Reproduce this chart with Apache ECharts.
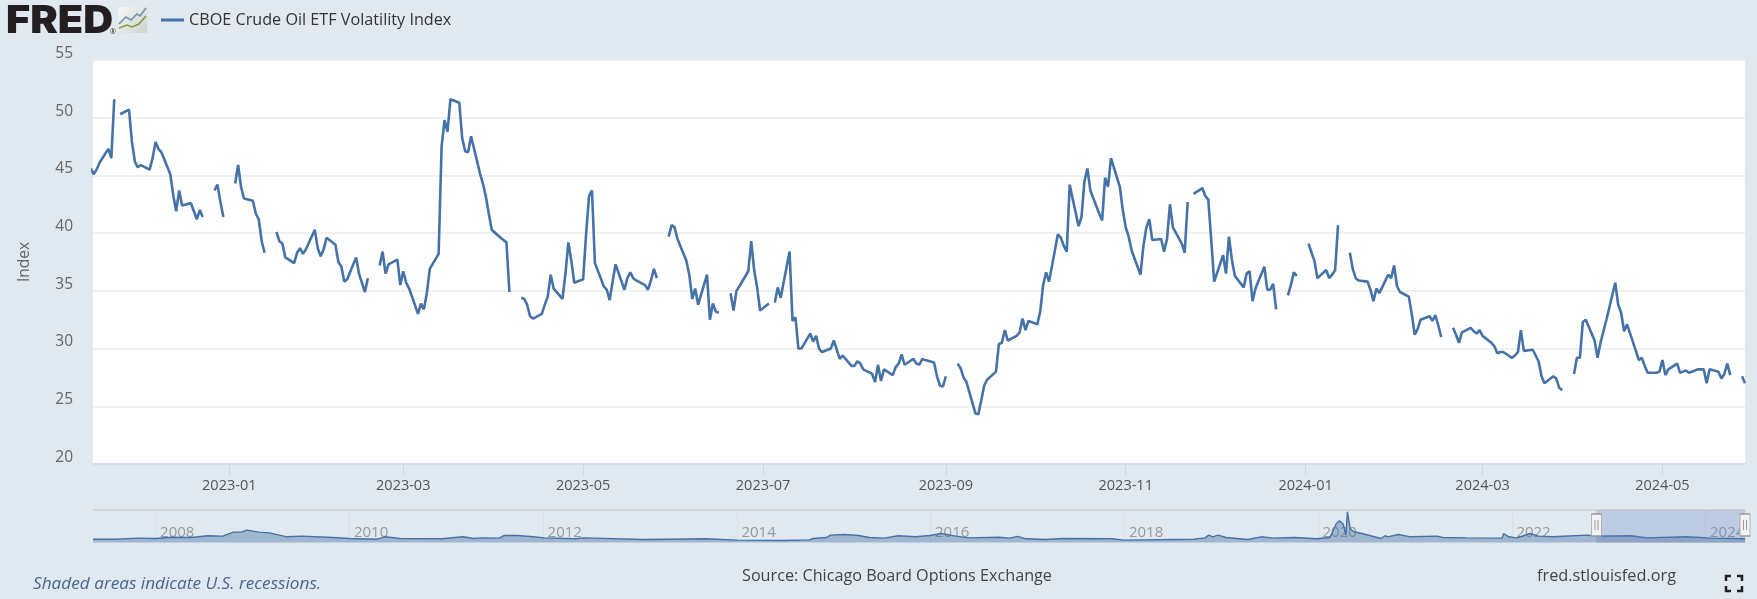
<!DOCTYPE html>
<html>
<head>
<meta charset="utf-8">
<style>html,body{margin:0;padding:0;background:#e1e9f0}#c{width:1757px;height:599px}</style>
<script src="https://cdn.jsdelivr.net/npm/echarts@6/dist/echarts.min.js"></script>
</head>
<body>
<div id="c"></div>
<script>
const seriesName = 'CBOE Crude Oil ETF Volatility Index';
const yTicks = [20,25,30,35,40,45,50,55];
const xTickMonths = ['2023-01-01','2023-03-01','2023-05-01','2023-07-01','2023-09-01','2023-11-01','2024-01-01','2024-03-01','2024-05-01'];
const navYears = ['2008-01-01','2010-01-01','2012-01-01','2014-01-01','2016-01-01','2018-01-01','2020-01-01','2022-01-01','2024-01-01'];

// One value per weekday of the month; null = market holiday (gap in the line)
const v2022_11 = [45.6,45.1,45.5,46.1, 47.3,46.5,51.6,null,50.3, 50.7,47.9,46.2];
const v2022_12 = [45.7,45.9, 45.5,46.5,47.9,47.3,47.0, 45.1,43.3,41.9,43.7,42.4, 42.6,41.9,41.2,42.0,41.4, null,43.7,44.2,42.7,41.4];
const v2023_01 = [null,44.3,45.9,44.0,43.0, 42.8,41.7,41.2,39.3,38.3, null,40.1,39.3,39.1,37.9, 37.4,38.3,38.7,38.2,38.6, 40.3,38.7];
const v2023_02 = [38.0,38.6,39.6, 39.0,37.5,37.1,35.8,36.0, 37.9,36.5,35.7,34.9,36.1, null,37.2,38.4,36.5,37.3, 37.7,35.5];
const v2023_03 = [36.7,35.7,35.2, 33.0,33.9,33.4,34.8,36.9, 38.2,47.5,49.8,48.8,51.6, 51.3,48.2,47.1,47.0,48.4, 45.2,44.3,43.2,41.7,40.3];
const v2023_04 = [39.6,39.4,39.2,34.9,null, 34.4,34.3,33.8,32.8,32.6, 33.0,33.8,34.5,36.4,35.2, 34.3,36.5,39.2,37.6,35.7];
const v2023_05 = [36.0,39.9,43.2,43.7,37.4, 35.4,35.1,34.2,35.8,37.3, 35.1,36.1,36.6,36.1,35.9, 35.5,35.1,35.9,36.9,36.1, null,39.7,40.7];
const v2023_06 = [40.5,39.5, 37.6,36.4,34.3,35.2,33.8, 36.4,32.5,33.9,33.2,33.1, null,34.8,33.3,35.0,35.4, 36.7,39.3,36.8,35.3,33.3];
const v2023_07 = [33.9,null,34.0,35.3,34.4, 38.4,32.4,32.7,30.0,30.0, 31.3,30.6,31.1,30.0,29.7, 30.0,30.7,29.9,29.1,29.4, 28.5];
const v2023_08 = [28.5,28.9,28.7,28.2, 27.8,27.1,28.6,27.2,28.2, 27.7,28.4,28.7,29.5,28.6, 29.1,28.7,28.6,29.1,29.0, 28.8,27.6,26.8,26.7];
const v2023_09 = [27.6, null,28.7,28.3,27.5,27.1, 24.4,24.3,25.5,26.8,27.3, 28.0,30.4,30.5,31.6,30.7, 31.1,31.4,32.6,31.6,32.4];
const v2023_10 = [32.1,33.2,35.5,36.6,35.8, 39.9,39.6,38.9,38.4,44.2, 40.6,41.4,44.5,45.6,43.7, 41.7,41.1,44.8,44.0,46.5, 44.0,42.0];
const v2023_11 = [40.5,39.7,38.5, 36.4,38.9,40.5,41.2,39.4, 39.5,38.4,39.5,42.5,40.5, 39.1,38.3,42.7,null,43.4, 43.9,43.2,42.9,39.4];
const v2023_12 = [35.8, 38.1,36.5,39.7,37.7,36.3, 35.3,36.5,36.7,34.1,35.2, 37.1,35.1,35.1,35.6,33.4, null,34.6,35.5,36.6,36.3];
const v2024_01 = [null,39.1,38.3,37.6,36.1, 36.8,36.1,36.4,36.8,40.7, null,38.3,36.9,36.1,35.9, 35.8,35.1,34.1,35.2,34.8, 36.4,36.1,37.2];
const v2024_02 = [35.4,34.9, 34.5,33.0,31.2,31.7,32.5, 32.8,32.4,32.9,32.0,31.0, null,31.8,31.2,30.5,31.4, 31.8,31.5,31.3,31.6];
const v2024_03 = [31.1, 30.5,30.2,29.6,29.7,29.7, 29.2,29.4,29.7,31.6,29.8, 29.9,29.4,28.9,27.6,27.0, 27.6,27.4,26.6,26.4,null];
const v2024_04 = [27.8,29.2,29.2,32.3,32.5, 30.7,29.2,30.5,31.5,32.5, 35.7,33.8,33.1,31.5,32.1, 29.8,29.0,29.2,28.5,27.9, 27.9,28.0];
const v2024_05 = [29.0,27.7,28.2, 28.7,27.9,28.0,28.1,27.9, 28.2,28.2,28.2,27.0,28.2, 28.0,27.4,27.8,28.7,27.7, null,27.6,27.0];

// Overview strip (whole history since 2007)
const navDates = ['2007-05-10','2007-08-01','2007-11-01','2008-01-01','2008-03-01','2008-05-15','2008-07-15','2008-09-10','2008-10-20','2008-11-20','2008-12-10','2009-01-25','2009-03-05','2009-05-10','2009-07-05','2009-10-10','2010-01-01','2010-04-15','2010-05-15','2010-07-10','2010-12-15','2011-03-05','2011-04-15','2011-05-15','2011-07-20','2011-08-08','2011-09-25','2011-11-15','2012-01-05','2012-05-05','2012-06-01','2013-01-15','2013-04-25','2013-09-05','2014-01-01','2014-06-25','2014-10-01','2014-10-15','2014-12-05','2014-12-20','2015-02-10','2015-04-05','2015-05-15','2015-07-10','2015-09-01','2015-11-05','2015-12-30','2016-02-10','2016-04-05','2016-05-25','2016-09-15','2016-10-25','2016-11-25','2016-12-25','2017-03-10','2017-05-15','2017-11-15','2017-12-30','2018-09-20','2018-11-01','2018-11-15','2018-11-30','2018-12-20','2019-01-20','2019-04-10','2019-06-01','2019-07-15','2019-10-05','2019-12-25','2020-02-15','2020-03-10','2020-03-22','2020-04-05','2020-04-15','2020-04-21','2020-05-01','2020-05-15','2020-06-15','2020-08-25','2020-09-10','2020-09-20','2020-10-30','2020-12-15','2021-03-25','2021-04-15','2021-07-15','2021-11-25','2021-12-01','2021-12-20','2022-01-20','2022-03-10','2022-04-12','2022-06-05','2022-10-10','2022-11-18','2023-03-25','2023-05-25','2023-10-22','2024-01-22','2024-05-29'];
const navValues = [35,35,46,42,56,53,71,67,109,109,131,109,102,60,67,56,42,35,60,42,39,60,42,49,46,74,74,64,49,39,49,32,35,39,25,21,28,42,53,78,85,74,53,46,71,60,74,95,67,49,56,46,64,39,32,42,39,25,35,49,78,60,78,53,32,60,46,53,39,53,201,229,194,78,325,148,113,95,42,71,60,85,60,67,53,49,46,95,60,49,95,67,60,78,67,71,49,60,46,39];

const blue = '#4572a7';
const font = '"Open Sans", "Noto Sans", sans-serif';
const monthly = [
  [2022,11,15,v2022_11],[2022,12,1,v2022_12],[2023,1,1,v2023_01],[2023,2,1,v2023_02],[2023,3,1,v2023_03],
  [2023,4,1,v2023_04],[2023,5,1,v2023_05],[2023,6,1,v2023_06],[2023,7,1,v2023_07],[2023,8,1,v2023_08],
  [2023,9,1,v2023_09],[2023,10,1,v2023_10],[2023,11,1,v2023_11],[2023,12,1,v2023_12],[2024,1,1,v2024_01],
  [2024,2,1,v2024_02],[2024,3,1,v2024_03],[2024,4,1,v2024_04],[2024,5,1,v2024_05]
];
const mainData = [];
monthly.forEach(([y,m,from,vals]) => {
  let d = from, i = 0;
  while (i < vals.length) {
    const t = Date.UTC(y, m-1, d);
    const wd = new Date(t).getUTCDay();
    if (wd !== 0 && wd !== 6) { mainData.push([t, vals[i]]); i++; }
    d++;
  }
});
const navData = navDates.map((d,i) => [Date.parse(d), navValues[i]]);
const windowStart = Date.UTC(2022,10,15,19);
const windowEnd = Date.UTC(2024,4,29);
const handleY = 185;
const pad = n => String(n).padStart(2,'0');

const chart = echarts.init(document.getElementById('c'));
const L = (pts, color, w) => ({type:'polyline', shape:{points:pts}, style:{stroke:color, lineWidth:w, fill:null}, silent:true});
chart.setOption({
  animation: false,
  backgroundColor: '#e1e9f0',
  textStyle: {fontFamily: font},
  tooltip: {show: false},
  legend: {
    left: 156, top: 7, icon: 'rect', itemWidth: 23, itemHeight: 3, selectedMode: false,
    data: [seriesName],
    textStyle: {fontFamily: font, fontSize: 16.2, color: '#333'}
  },
  grid: [
    {left: 93, top: 60, width: 1652, height: 404, show: true, backgroundColor: '#fff', borderWidth: 0},
    {left: 93, top: 510, width: 1652, height: 32.5, show: false}
  ],
  xAxis: [
    {
      type: 'value', gridIndex: 0, min: windowStart, max: windowEnd, scale: true,
      axisLine: {onZero: false, lineStyle: {color: '#ccd6eb', width: 1.5}},
      axisTick: {show: true, length: 11, lineStyle: {color: '#ccd6eb'}, customValues: xTickMonths.map(s => Date.parse(s))},
      axisLabel: {
        margin: 14, fontFamily: font, fontSize: 14.5, color: '#555', hideOverlap: false,
        customValues: xTickMonths.map(s => Date.parse(s)),
        formatter: v => { const d = new Date(v); return d.getUTCFullYear() + '-' + pad(d.getUTCMonth()+1); }
      },
      splitLine: {show: false}
    },
    {
      type: 'value', gridIndex: 1, min: Date.UTC(2007,4,10), max: windowEnd, scale: true,
      axisLine: {show: false, onZero: false},
      axisTick: {show: true, inside: true, length: 32, lineStyle: {color: '#d8dfe6'}, customValues: navYears.map(s => Date.parse(s))},
      axisLabel: {
        inside: true, margin: 2, align: 'left', verticalAlign: 'bottom', padding: [0,0,0,4.5],
        fontFamily: font, fontSize: 15, color: '#999', hideOverlap: false,
        customValues: navYears.map(s => Date.parse(s)),
        formatter: v => String(new Date(v).getUTCFullYear())
      },
      splitLine: {show: false}
    }
  ],
  yAxis: [
    {
      type: 'value', gridIndex: 0, min: yTicks[0], max: yTicks[yTicks.length-1], interval: 5,
      name: 'Index', nameLocation: 'middle', nameGap: 60, nameRotate: 90,
      nameTextStyle: {fontFamily: font, fontSize: 15.5, color: '#666'},
      axisLine: {show: false}, axisTick: {show: false},
      axisLabel: {margin: 20, verticalAlign: 'bottom', fontFamily: font, fontSize: 15.5, color: '#666', lineHeight: 13},
      splitLine: {show: true, lineStyle: {color: '#ebebeb', width: 1.5}}
    },
    {type: 'value', gridIndex: 1, min: 0, max: 343, show: false, splitLine: {show: false}}
  ],
  series: [
    {
      name: seriesName, type: 'line', xAxisIndex: 0, yAxisIndex: 0, data: mainData,
      showSymbol: false, connectNulls: false, smooth: false, clip: true,
      lineStyle: {color: blue, width: 2.6}, itemStyle: {color: blue}
    },
    {
      name: 'overview', type: 'line', xAxisIndex: 1, yAxisIndex: 1, data: navData,
      showSymbol: false, smooth: false, silent: true,
      lineStyle: {color: blue, width: 1.4}, itemStyle: {color: blue},
      areaStyle: {color: 'rgba(69,114,167,0.6)'},
      markArea: {
        silent: true,
        itemStyle: {color: 'rgba(102,133,194,0.3)', borderColor: '#cccccc', borderWidth: 1},
        data: [[{xAxis: Date.UTC(2022,10,16)}, {xAxis: windowEnd}]]
      },
      markPoint: {
        silent: true, label: {show: false},
        data: [
          {coord: [Date.UTC(2022,10,16), handleY], symbol: 'rect', symbolSize: [10,22], itemStyle: {color: '#f2f2f2', borderColor: '#999', borderWidth: 1}},
          {coord: [Date.UTC(2022,10,16), handleY], symbol: 'rect', symbolSize: [1,10], symbolOffset: [-1.5,0], itemStyle: {color: '#999'}},
          {coord: [Date.UTC(2022,10,16), handleY], symbol: 'rect', symbolSize: [1,10], symbolOffset: [1.5,0], itemStyle: {color: '#999'}},
          {coord: [windowEnd, handleY], symbol: 'rect', symbolSize: [10,22], itemStyle: {color: '#f2f2f2', borderColor: '#999', borderWidth: 1}},
          {coord: [windowEnd, handleY], symbol: 'rect', symbolSize: [1,10], symbolOffset: [-1.5,0], itemStyle: {color: '#999'}},
          {coord: [windowEnd, handleY], symbol: 'rect', symbolSize: [1,10], symbolOffset: [1.5,0], itemStyle: {color: '#999'}}
        ]
      }
    }
  ],
  graphic: [
    {type:'text', x:6, y:3, scaleX:1.09, style:{text:'FRED', font:'900 38px Inter, "Open Sans", sans-serif', fill:'#231f20'}},
    {type:'text', x:110, y:28, style:{text:'®', font:'7px "Open Sans"', fill:'#231f20'}},
    {type:'rect', shape:{x:118,y:7,width:29,height:26,r:2}, style:{fill:{type:'linear',x:0,y:0,x2:1,y2:1,colorStops:[{offset:0,color:'#f6f7f5'},{offset:1,color:'#cfd2cf'}]}}},
    L([[119,24],[126,17],[131,20],[137,14],[140,16],[146,8]], '#6d93b5', 1.6),
    L([[119,28],[127,25],[132,27],[139,24],[146,16]], '#7ea03c', 1.6),
    {type:'line', shape:{x1:93,y1:510,x2:1745,y2:510}, style:{stroke:'#cccccc', lineWidth:1.5}},
    {type:'text', x:33, y:575.5, style:{text:'Shaded areas indicate U.S. recessions.', font:'italic 17.2px "Open Sans"', fill:'#4a6491'}},
    {type:'text', x:742, y:568, style:{text:'Source: Chicago Board Options Exchange', font:'16.2px "Open Sans"', fill:'#444'}},
    {type:'text', x:1537, y:568, style:{text:'fred.stlouisfed.org', font:'16.3px "Open Sans"', fill:'#444'}},
    L([[1726,581],[1726,576],[1731,576]], '#222', 2.5),
    L([[1737,576],[1742,576],[1742,581]], '#222', 2.5),
    L([[1726,586],[1726,591],[1731,591]], '#222', 2.5),
    L([[1737,591],[1742,591],[1742,586]], '#222', 2.5)
  ]
});
</script>
</body>
</html>
